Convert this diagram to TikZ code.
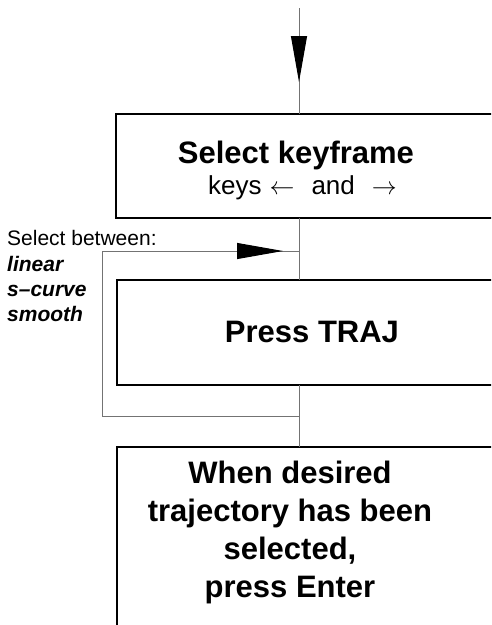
\documentclass[tikz,border=0pt]{standalone}
\usepackage{fontspec}
\setmainfont{Liberation Sans}
\usetikzlibrary{arrows.meta,decorations.markings}

\tikzset{
  stepbox/.style={draw=black, line width=2pt, rectangle, inner sep=0pt, outer sep=0pt},
  wire/.style={draw=black!55, line width=1pt},
  headat/.style={postaction={decorate}, decoration={markings,
      mark=at position #1 with {\arrow{Triangle[length=46pt,width=16pt,color=black,fill=black]}}}},
  title/.style={font=\fontsize{31}{38}\selectfont\bfseries, inner sep=0pt, anchor=base},
  note/.style={font=\fontsize{26}{30}\selectfont, inner sep=0pt, anchor=base west},
  small/.style={font=\fontsize{21}{25}\selectfont, inner sep=0pt, anchor=base west},
  choice/.style={font=\fontsize{21}{25}\selectfont\bfseries\itshape, inner sep=0pt, anchor=base west}
}

\begin{document}
\begin{tikzpicture}[x=1pt, y=-1pt]
  \useasboundingbox (0,0) rectangle (491,625);
  \clip (0,0) rectangle (491,625);

  % process boxes (they run on past the right and bottom edges)
  \node[stepbox, anchor=north west, minimum width=420pt, minimum height=104pt] (sel)  at (116,114) {};
  \node[stepbox, anchor=north west, minimum width=420pt, minimum height=105pt] (traj) at (117,280) {};
  \node[stepbox, anchor=north west, minimum width=420pt, minimum height=260pt] (done) at (117,447) {};

  % box texts
  \node[title] (selt) at (296,163) {Select keyframe};
  \node[note] (selk) at (208,194) {keys\hspace{8pt}$\leftarrow$\hspace{17pt}and\hspace{17pt}$\rightarrow$};
  \node[title] (trajt) at (312,342) {Press TRAJ};
  \node[title] (d1) at (290,483) {When desired};
  \node[title] (d2) at (290,521) {trajectory has been};
  \node[title] (d3) at (290,559) {selected,};
  \node[title] (d4) at (290,597) {press Enter};

  % side note
  \node[small]  (sb) at (7,245) {Select between:};
  \node[choice] (c1) at (7,271) {linear};
  \node[choice] (c2) at (7,296) {s--curve};
  \node[choice] (c3) at (7,321) {smooth};

  % spine
  \coordinate (in) at (299,8);
  \draw[wire, headat=74pt] (in) -- (in |- sel.north);
  \draw[wire] (sel.south -| in) -- (traj.north -| in);
  \draw[wire] (traj.south -| in) -- (done.north -| in);

  % feedback loop around TRAJ
  \coordinate (lb)  at (299,416);
  \coordinate (lbl) at (102,416);
  \coordinate (ltl) at (102,251);
  \coordinate (lt)  at (299,251);
  \draw[wire, headat=543pt] (lb) -- (lbl) -- (ltl) -- (lt);
\end{tikzpicture}
\end{document}
